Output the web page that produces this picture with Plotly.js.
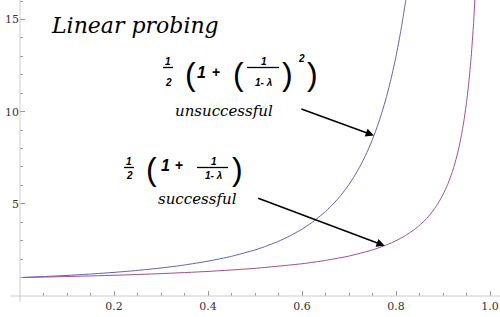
<!DOCTYPE html>
<html>
<head>
<meta charset="utf-8">
<script src="https://cdn.plot.ly/plotly-3.0.1.min.js"></script>
<style>html,body{margin:0;padding:0;background:#fff;}#chart{width:500px;height:317px;}</style>
</head>
<body>
<div id="chart"></div>
<script>
// Load factor values (x) and expected probe counts
var lambdaUnsucc = [0, 0.05, 0.1, 0.15, 0.2, 0.25, 0.3, 0.35, 0.4, 0.45, 0.5, 0.52, 0.55, 0.57, 0.6, 0.62, 0.65, 0.67, 0.68, 0.69, 0.7, 0.71, 0.72, 0.73, 0.74, 0.75, 0.76, 0.77, 0.78, 0.79, 0.8, 0.81, 0.815, 0.82, 0.825];
var probesUnsucc = [1.0, 1.054, 1.117, 1.192, 1.281, 1.389, 1.52, 1.683, 1.889, 2.153, 2.5, 2.67, 2.969, 3.204, 3.625, 3.963, 4.582, 5.091, 5.383, 5.703, 6.056, 6.445, 6.878, 7.359, 7.896, 8.5, 9.18, 9.952, 10.831, 11.838, 13.0, 14.35, 15.109, 15.932, 16.827];
var lambdaSucc = [0, 0.1, 0.2, 0.3, 0.4, 0.5, 0.6, 0.65, 0.7, 0.75, 0.78, 0.8, 0.82, 0.84, 0.85, 0.86, 0.87, 0.88, 0.89, 0.9, 0.91, 0.92, 0.925, 0.93, 0.935, 0.94, 0.945, 0.95, 0.955, 0.96, 0.965, 0.97];
var probesSucc = [1.0, 1.056, 1.125, 1.214, 1.333, 1.5, 1.75, 1.929, 2.167, 2.5, 2.773, 3.0, 3.278, 3.625, 3.833, 4.071, 4.346, 4.667, 5.045, 5.5, 6.056, 6.75, 7.167, 7.643, 8.192, 8.833, 9.591, 10.5, 11.611, 13.0, 14.786, 17.167];
var xTickVals = [0.2, 0.4, 0.6, 0.8, 1.0];
var xTickText = ['0.2', '0.4', '0.6', '0.8', '1.0'];
var yTickVals = [5, 10, 15];
var yTickText = ['5', '10', '15'];
var titleText = 'Linear probing';
var labelUnsucc = 'unsuccessful';
var labelSucc = 'successful';

// pixel helpers for placing annotations
var L = 20, B = 21, W = 500, H = 317;
var XMAX = 480 / 470, YMAX = 296 / 18.43;
function px(p) { return (p - L) / 470; }
function py(p) { return (H - B - p) / 18.43; }

var serif = 'DejaVu Serif';
var mathF = 'Liberation Sans';

function txt(x, y, t, size, opts) {
  opts = opts || {};
  return {
    xref: 'x', yref: 'y', x: px(x), y: py(y), text: t, showarrow: false,
    xanchor: opts.xanchor || 'center', yanchor: 'middle',
    font: {family: opts.family || mathF, size: size, color: '#000'}
  };
}

var annotations = [
  txt(49, 25, '<i>' + titleText + '</i>', 22, {family: serif, xanchor: 'left'}),
  // formula 1
  txt(168, 61, '<b><i>1</i></b>', 10),
  txt(168, 82, '<b><i>2</i></b>', 10),
  txt(190, 74, '(', 32),
  txt(201, 72, '<b><i>1</i></b>', 16),
  txt(216, 72, '<b>+</b>', 14),
  txt(238, 74, '(', 32),
  txt(264, 61, '<b><i>1</i></b>', 10),
  txt(263, 82, '<b><i>1- λ</i></b>', 10),
  txt(287, 74, ')', 32),
  txt(301, 58, '<b><i>2</i></b>', 10),
  txt(312, 74, ')', 32),
  // formula 2
  txt(129, 161, '<b><i>1</i></b>', 10),
  txt(129, 175, '<b><i>2</i></b>', 10),
  txt(151, 169, '(', 32),
  txt(165, 165, '<b><i>1</i></b>', 16),
  txt(179, 165, '<b>+</b>', 14),
  txt(214, 161, '<b><i>1</i></b>', 10),
  txt(213, 175, '<b><i>1- λ</i></b>', 10),
  txt(237, 169, ')', 32),
  // labels
  txt(224, 111, '<i>' + labelUnsucc + '</i>', 15, {family: serif}),
  txt(197, 199, '<i>' + labelSucc + '</i>', 15, {family: serif}),
  // arrows
  {xref: 'x', yref: 'y', x: 0.753, y: 8.71, showarrow: true, text: '', ax: -74, ay: -27,
   arrowhead: 2, arrowsize: 1.1, arrowwidth: 1.5, arrowcolor: '#000', standoff: 0},
  {xref: 'x', yref: 'y', x: 0.776, y: 2.73, showarrow: true, text: '', ax: -128, ay: -48,
   arrowhead: 2, arrowsize: 1.1, arrowwidth: 1.5, arrowcolor: '#000', standoff: 0}
];

function bar(x0, x1, y) {
  return {type: 'line', xref: 'x', yref: 'y', x0: px(x0), x1: px(x1), y0: py(y), y1: py(y),
          line: {color: '#000', width: 1.3}};
}
var shapes = [bar(163, 173, 67.5), bar(247, 279, 67.5), bar(124, 134, 167.5), bar(197, 228, 167.5)];

var traces = [
  {x: lambdaUnsucc, y: probesUnsucc, type: 'scatter', mode: 'lines',
   line: {color: '#6060ac', width: 1, shape: 'spline', smoothing: 0.5}, hoverinfo: 'none'},
  {x: lambdaSucc, y: probesSucc, type: 'scatter', mode: 'lines',
   line: {color: '#a0508a', width: 1, shape: 'spline', smoothing: 0.5}, hoverinfo: 'none'}
];

var axisCommon = {
  showgrid: false, zeroline: false, showline: false,
  ticks: 'inside', ticklen: 5, tickwidth: 1, tickcolor: '#999',
  tickfont: {family: serif, size: 11, color: '#333'},
  fixedrange: true
};

var layout = {
  width: W, height: H,
  margin: {l: L, r: 0, t: 0, b: B, pad: 0},
  paper_bgcolor: '#fff', plot_bgcolor: '#fff',
  showlegend: false,
  xaxis: Object.assign({}, axisCommon, {
    range: [0, XMAX], tickmode: 'array', tickvals: xTickVals, ticktext: xTickText,
    minor: {ticks: 'inside', ticklen: 3, tickcolor: '#999', tickmode: 'linear', tick0: 0, dtick: 0.05},
    ticklabelstandoff: 2
  }),
  yaxis: Object.assign({}, axisCommon, {
    range: [0, YMAX], tickmode: 'array', tickvals: yTickVals, ticktext: yTickText,
    minor: {ticks: 'inside', ticklen: 3, tickcolor: '#999', tickmode: 'linear', tick0: 0, dtick: 1}
  }),
  shapes: shapes.concat([
    {type: 'line', xref: 'paper', yref: 'paper', x0: -10 / 480, x1: 1, y0: 0, y1: 0, line: {color: '#ccc', width: 1}},
    {type: 'line', xref: 'paper', yref: 'paper', x0: 0, x1: 0, y0: -6 / 296, y1: 1, line: {color: '#ccc', width: 1}}
  ]),
  annotations: annotations
};

Plotly.newPlot('chart', traces, layout, {staticPlot: true, displayModeBar: false});
</script>
</body>
</html>
